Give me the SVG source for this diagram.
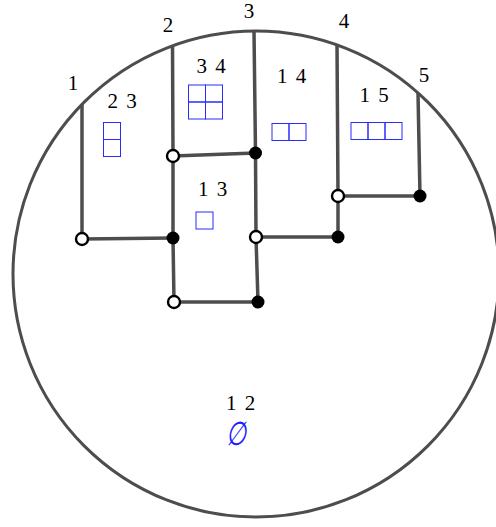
<svg xmlns="http://www.w3.org/2000/svg" width="496" height="527" viewBox="0 0 496 527">
<style>
.edge{stroke:#4d4d4d;stroke-width:3.5;fill:none;stroke-linecap:butt}
.bound{stroke:#4d4d4d;stroke-width:3;fill:none}
.w{fill:#fff;stroke:#000;stroke-width:2.4}
.b{fill:#000}
.lbl{font-family:"Liberation Serif","DejaVu Serif",serif;font-size:21px;fill:#000;text-anchor:middle;word-spacing:3px}
.yd{fill:none;stroke:#2b2bff;stroke-width:1}
.es{font-family:"DejaVu Serif","Liberation Serif",serif;font-size:33px;fill:#2020ff;text-anchor:middle;font-style:italic}
</style>
<rect width="496" height="527" fill="#fff"/>
<circle id="boundary" class="bound" cx="256" cy="274" r="243"/>
<g id="connectors">
<line class="edge" x1="82" y1="104" x2="82" y2="239"/>
<line class="edge" x1="82" y1="239" x2="173" y2="238"/>
<polyline class="edge" points="172.5,45 173,156 173,238 174,302"/>
<line class="edge" x1="173" y1="156" x2="255.5" y2="153"/>
<polyline class="edge" points="254,31 255.5,153 256,237 258,302"/>
<line class="edge" x1="174" y1="302" x2="258" y2="302"/>
<line class="edge" x1="256" y1="237" x2="338" y2="237"/>
<polyline class="edge" points="337,44 338,196 338,237"/>
<line class="edge" x1="338" y1="196" x2="420" y2="196"/>
<line class="edge" x1="418" y1="93" x2="420" y2="196"/>
</g>
<g id="n1"><circle class="w" cx="82" cy="239" r="6"/></g>
<g id="n2"><circle class="b" cx="173" cy="238" r="6.5"/></g>
<g id="n3"><circle class="w" cx="173" cy="156" r="6"/></g>
<g id="n4"><circle class="b" cx="255.5" cy="153" r="6.5"/></g>
<g id="n5"><circle class="w" cx="174" cy="302" r="6"/></g>
<g id="n6"><circle class="b" cx="258" cy="302" r="6.5"/></g>
<g id="n7"><circle class="w" cx="256" cy="237" r="6"/></g>
<g id="n8"><circle class="b" cx="338" cy="237" r="6.5"/></g>
<g id="n9"><circle class="w" cx="338" cy="196" r="6"/></g>
<g id="n10"><circle class="b" cx="420" cy="196" r="6.5"/></g>
<g id="ends">
<text class="lbl" x="73" y="90">1</text>
<text class="lbl" x="168" y="32">2</text>
<text class="lbl" x="249" y="18">3</text>
<text class="lbl" x="344" y="28">4</text>
<text class="lbl" x="424" y="82">5</text>
</g>
<g id="r23">
<text class="lbl" x="122" y="108">2 3</text>
<rect class="yd" x="103.5" y="122.5" width="17" height="17"/>
<rect class="yd" x="103.5" y="139.5" width="17" height="17"/>
</g>
<g id="r34">
<text class="lbl" x="211" y="73">3 4</text>
<rect class="yd" x="188.5" y="85" width="17" height="17"/>
<rect class="yd" x="205.5" y="85" width="17" height="17"/>
<rect class="yd" x="188.5" y="102" width="17" height="17"/>
<rect class="yd" x="205.5" y="102" width="17" height="17"/>
</g>
<g id="r14">
<text class="lbl" x="291.5" y="83">1 4</text>
<rect class="yd" x="272" y="123.5" width="17" height="17"/>
<rect class="yd" x="289" y="123.5" width="17" height="17"/>
</g>
<g id="r15">
<text class="lbl" x="374" y="102">1 5</text>
<rect class="yd" x="351" y="122.5" width="17" height="17"/>
<rect class="yd" x="368" y="122.5" width="17" height="17"/>
<rect class="yd" x="385" y="122.5" width="17" height="17"/>
</g>
<g id="r13">
<text class="lbl" x="212.5" y="196">1 3</text>
<rect class="yd" x="196" y="212" width="17" height="17"/>
</g>
<g id="r12">
<text class="lbl" x="240.5" y="410">1 2</text>
<text class="es" x="236" y="445" transform="translate(236 0) scale(0.7 1) translate(-236 0)">∅</text>
</g>
</svg>
